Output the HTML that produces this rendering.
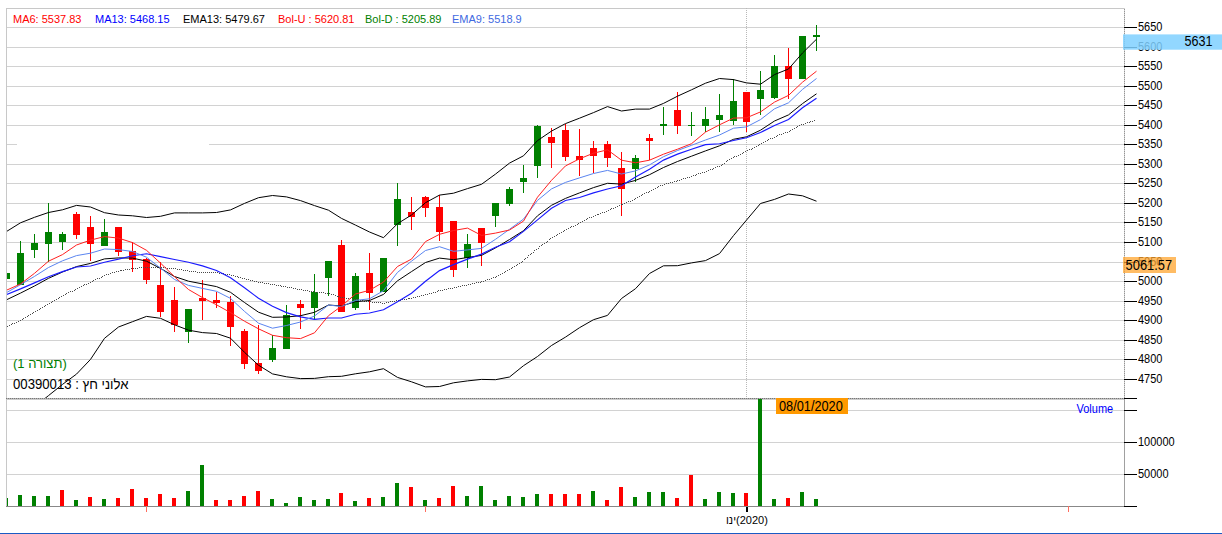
<!DOCTYPE html>
<html><head><meta charset="utf-8"><style>
html,body{margin:0;padding:0;background:#fff;}
body{width:1222px;height:534px;overflow:hidden;position:relative;font-family:"Liberation Sans",sans-serif;}
svg{position:absolute;left:0;top:0;}
div.t{position:absolute;white-space:pre;line-height:1;}
.ib{display:inline-block;}
text{font-family:"Liberation Sans",sans-serif;}
</style></head><body>
<svg width="1222" height="534" viewBox="0 0 1222 534">
<defs><clipPath id="cp"><rect x="7" y="9" width="1117" height="389"/></clipPath>
<clipPath id="cv"><rect x="7" y="399" width="1117" height="107"/></clipPath></defs>

<g shape-rendering="crispEdges" fill="#d2d2d2">
<rect x="7" y="27" width="1117" height="1"/>
<rect x="7" y="47" width="1117" height="1"/>
<rect x="7" y="66" width="1117" height="1"/>
<rect x="7" y="86" width="1117" height="1"/>
<rect x="7" y="105" width="1117" height="1"/>
<rect x="7" y="125" width="1117" height="1"/>
<rect x="7" y="144" width="1117" height="1"/>
<rect x="7" y="164" width="1117" height="1"/>
<rect x="7" y="183" width="1117" height="1"/>
<rect x="7" y="203" width="1117" height="1"/>
<rect x="7" y="222" width="1117" height="1"/>
<rect x="7" y="242" width="1117" height="1"/>
<rect x="7" y="262" width="1117" height="1"/>
<rect x="7" y="281" width="1117" height="1"/>
<rect x="7" y="301" width="1117" height="1"/>
<rect x="7" y="320" width="1117" height="1"/>
<rect x="7" y="340" width="1117" height="1"/>
<rect x="7" y="359" width="1117" height="1"/>
<rect x="7" y="379" width="1117" height="1"/>
</g><rect x="17" y="144" width="192" height="1" fill="#fff" shape-rendering="crispEdges"/><g shape-rendering="crispEdges" fill="#d2d2d2">
<rect x="7" y="410" width="1117" height="1"/>
<rect x="7" y="442" width="1117" height="1"/>
<rect x="7" y="474" width="1117" height="1"/>
</g>
<g shape-rendering="crispEdges">
<rect x="6" y="8" width="1119" height="1" fill="#c8c8c8"/>
<rect x="6" y="8" width="1" height="499" fill="#c8c8c8"/>
<rect x="1124" y="8" width="1" height="390" fill="#d0d0d0"/>
<line x1="1124.5" y1="9" x2="1124.5" y2="398" stroke="#959595" stroke-width="1" stroke-dasharray="1,1"/>
<rect x="1124" y="398" width="1" height="109" fill="#a0a0a0"/>
<rect x="6" y="398" width="1118" height="1" fill="#b4b4b4"/>
<line x1="6" y1="398.5" x2="1124" y2="398.5" stroke="#787878" stroke-width="1" stroke-dasharray="1,1"/>
<rect x="7" y="399" width="1117" height="1" fill="#cccccc"/>
<rect x="6" y="506" width="1119" height="1" fill="#888"/>
<rect x="1124" y="27" width="13" height="1" fill="#000"/>
<rect x="1124" y="47" width="13" height="1" fill="#000"/>
<rect x="1124" y="66" width="13" height="1" fill="#000"/>
<rect x="1124" y="86" width="13" height="1" fill="#000"/>
<rect x="1124" y="105" width="13" height="1" fill="#000"/>
<rect x="1124" y="125" width="13" height="1" fill="#000"/>
<rect x="1124" y="144" width="13" height="1" fill="#000"/>
<rect x="1124" y="164" width="13" height="1" fill="#000"/>
<rect x="1124" y="183" width="13" height="1" fill="#000"/>
<rect x="1124" y="203" width="13" height="1" fill="#000"/>
<rect x="1124" y="222" width="13" height="1" fill="#000"/>
<rect x="1124" y="242" width="13" height="1" fill="#000"/>
<rect x="1124" y="262" width="13" height="1" fill="#000"/>
<rect x="1124" y="281" width="13" height="1" fill="#000"/>
<rect x="1124" y="301" width="13" height="1" fill="#000"/>
<rect x="1124" y="320" width="13" height="1" fill="#000"/>
<rect x="1124" y="340" width="13" height="1" fill="#000"/>
<rect x="1124" y="359" width="13" height="1" fill="#000"/>
<rect x="1124" y="379" width="13" height="1" fill="#000"/>
<rect x="1124" y="398" width="13" height="1" fill="#000"/>
<rect x="1124" y="410" width="13" height="1" fill="#000"/>
<rect x="1124" y="442" width="13" height="1" fill="#000"/>
<rect x="1124" y="474" width="13" height="1" fill="#000"/>
<rect x="1124" y="506" width="13" height="1" fill="#000"/>
</g>
<g font-size="11" fill="#000">
<text transform="translate(1138,31) scale(1,1.12)">5650</text>
<text transform="translate(1138,51) scale(1,1.12)">5600</text>
<text transform="translate(1138,70) scale(1,1.12)">5550</text>
<text transform="translate(1138,90) scale(1,1.12)">5500</text>
<text transform="translate(1138,109) scale(1,1.12)">5450</text>
<text transform="translate(1138,129) scale(1,1.12)">5400</text>
<text transform="translate(1138,148) scale(1,1.12)">5350</text>
<text transform="translate(1138,168) scale(1,1.12)">5300</text>
<text transform="translate(1138,187) scale(1,1.12)">5250</text>
<text transform="translate(1138,207) scale(1,1.12)">5200</text>
<text transform="translate(1138,226) scale(1,1.12)">5150</text>
<text transform="translate(1138,246) scale(1,1.12)">5100</text>
<text transform="translate(1138,266) scale(1,1.12)">5050</text>
<text transform="translate(1138,285) scale(1,1.12)">5000</text>
<text transform="translate(1138,305) scale(1,1.12)">4950</text>
<text transform="translate(1138,324) scale(1,1.12)">4900</text>
<text transform="translate(1138,344) scale(1,1.12)">4850</text>
<text transform="translate(1138,363) scale(1,1.12)">4800</text>
<text transform="translate(1138,383) scale(1,1.12)">4750</text>
<text transform="translate(1138,446) scale(1,1.12)">100000</text><text transform="translate(1138,478) scale(1,1.12)">50000</text>
</g>
<line x1="746.5" y1="8" x2="746.5" y2="398" stroke="#b8b8b8" stroke-width="1" stroke-dasharray="1,1" shape-rendering="crispEdges"/>
<g clip-path="url(#cp)">
<g shape-rendering="crispEdges">
<rect x="6" y="272.7" width="1" height="6.0" fill="#008000"/>
<rect x="3" y="272.7" width="7" height="6.0" fill="#008000"/>
<rect x="20" y="240.9" width="1" height="43.6" fill="#008000"/>
<rect x="17" y="253.1" width="7" height="31.4" fill="#008000"/>
<rect x="34" y="234.0" width="1" height="23.7" fill="#008000"/>
<rect x="31" y="243.1" width="7" height="6.8" fill="#008000"/>
<rect x="48" y="203.4" width="1" height="58.1" fill="#008000"/>
<rect x="45" y="232.1" width="7" height="11.6" fill="#008000"/>
<rect x="62" y="232.1" width="1" height="17.8" fill="#008000"/>
<rect x="59" y="234.0" width="7" height="7.8" fill="#008000"/>
<rect x="76" y="212.2" width="1" height="26.4" fill="#ff0000"/>
<rect x="73" y="213.7" width="7" height="21.0" fill="#ff0000"/>
<rect x="90" y="216.2" width="1" height="44.7" fill="#ff0000"/>
<rect x="87" y="227.2" width="7" height="16.5" fill="#ff0000"/>
<rect x="104" y="219.0" width="1" height="26.6" fill="#008000"/>
<rect x="101" y="232.1" width="7" height="13.5" fill="#008000"/>
<rect x="118" y="227.1" width="1" height="28.5" fill="#ff0000"/>
<rect x="115" y="227.1" width="7" height="24.7" fill="#ff0000"/>
<rect x="132" y="241.5" width="1" height="30.0" fill="#ff0000"/>
<rect x="129" y="251.3" width="7" height="8.2" fill="#ff0000"/>
<rect x="146" y="257.5" width="1" height="26.2" fill="#ff0000"/>
<rect x="143" y="259.3" width="7" height="20.6" fill="#ff0000"/>
<rect x="160" y="261.6" width="1" height="54.9" fill="#ff0000"/>
<rect x="157" y="285.0" width="7" height="26.8" fill="#ff0000"/>
<rect x="174" y="287.1" width="1" height="44.8" fill="#ff0000"/>
<rect x="171" y="300.0" width="7" height="25.0" fill="#ff0000"/>
<rect x="188" y="309.0" width="1" height="33.7" fill="#008000"/>
<rect x="185" y="309.0" width="7" height="22.5" fill="#008000"/>
<rect x="202" y="280.3" width="1" height="39.4" fill="#ff0000"/>
<rect x="199" y="298.0" width="7" height="2.5" fill="#ff0000"/>
<rect x="216" y="292.1" width="1" height="15.5" fill="#ff0000"/>
<rect x="213" y="300.0" width="7" height="2.9" fill="#ff0000"/>
<rect x="230" y="295.6" width="1" height="50.2" fill="#ff0000"/>
<rect x="227" y="301.8" width="7" height="24.7" fill="#ff0000"/>
<rect x="244" y="329.3" width="1" height="39.4" fill="#ff0000"/>
<rect x="241" y="330.8" width="7" height="32.8" fill="#ff0000"/>
<rect x="258" y="325.2" width="1" height="49.1" fill="#ff0000"/>
<rect x="255" y="363.0" width="7" height="7.5" fill="#ff0000"/>
<rect x="272" y="334.6" width="1" height="26.9" fill="#008000"/>
<rect x="269" y="348.0" width="7" height="11.7" fill="#008000"/>
<rect x="286" y="305.0" width="1" height="43.6" fill="#008000"/>
<rect x="283" y="314.9" width="7" height="33.7" fill="#008000"/>
<rect x="300" y="300.3" width="1" height="28.5" fill="#ff0000"/>
<rect x="297" y="304.0" width="7" height="3.8" fill="#ff0000"/>
<rect x="314" y="274.0" width="1" height="45.4" fill="#008000"/>
<rect x="311" y="292.2" width="7" height="15.6" fill="#008000"/>
<rect x="328" y="261.0" width="1" height="34.6" fill="#008000"/>
<rect x="325" y="261.0" width="7" height="16.6" fill="#008000"/>
<rect x="341" y="240.3" width="1" height="72.1" fill="#ff0000"/>
<rect x="338" y="245.0" width="7" height="67.4" fill="#ff0000"/>
<rect x="355" y="273.1" width="1" height="36.5" fill="#008000"/>
<rect x="352" y="275.9" width="7" height="31.8" fill="#008000"/>
<rect x="369" y="253.4" width="1" height="56.2" fill="#ff0000"/>
<rect x="366" y="273.1" width="7" height="19.6" fill="#ff0000"/>
<rect x="383" y="258.1" width="1" height="34.1" fill="#008000"/>
<rect x="380" y="258.1" width="7" height="34.1" fill="#008000"/>
<rect x="397" y="183.4" width="1" height="62.3" fill="#008000"/>
<rect x="394" y="199.0" width="7" height="25.8" fill="#008000"/>
<rect x="411" y="197.0" width="1" height="32.7" fill="#ff0000"/>
<rect x="408" y="212.0" width="7" height="4.5" fill="#ff0000"/>
<rect x="425" y="196.3" width="1" height="20.5" fill="#ff0000"/>
<rect x="422" y="196.8" width="7" height="10.9" fill="#ff0000"/>
<rect x="439" y="195.4" width="1" height="45.2" fill="#ff0000"/>
<rect x="436" y="207.0" width="7" height="24.7" fill="#ff0000"/>
<rect x="453" y="221.0" width="1" height="55.6" fill="#ff0000"/>
<rect x="450" y="221.0" width="7" height="48.7" fill="#ff0000"/>
<rect x="467" y="234.2" width="1" height="33.6" fill="#008000"/>
<rect x="464" y="244.0" width="7" height="13.5" fill="#008000"/>
<rect x="481" y="228.0" width="1" height="37.7" fill="#ff0000"/>
<rect x="478" y="228.0" width="7" height="14.7" fill="#ff0000"/>
<rect x="495" y="203.0" width="1" height="23.7" fill="#008000"/>
<rect x="492" y="203.0" width="7" height="12.7" fill="#008000"/>
<rect x="509" y="187.1" width="1" height="18.7" fill="#008000"/>
<rect x="506" y="189.0" width="7" height="14.6" fill="#008000"/>
<rect x="523" y="165.2" width="1" height="27.5" fill="#008000"/>
<rect x="520" y="178.3" width="7" height="3.2" fill="#008000"/>
<rect x="537" y="125.3" width="1" height="52.4" fill="#008000"/>
<rect x="534" y="125.9" width="7" height="39.7" fill="#008000"/>
<rect x="551" y="128.1" width="1" height="39.7" fill="#ff0000"/>
<rect x="548" y="137.1" width="7" height="5.6" fill="#ff0000"/>
<rect x="565" y="124.4" width="1" height="36.1" fill="#ff0000"/>
<rect x="562" y="130.0" width="7" height="26.6" fill="#ff0000"/>
<rect x="579" y="129.0" width="1" height="46.9" fill="#ff0000"/>
<rect x="576" y="156.2" width="7" height="3.8" fill="#ff0000"/>
<rect x="593" y="141.0" width="1" height="32.2" fill="#ff0000"/>
<rect x="590" y="148.1" width="7" height="7.8" fill="#ff0000"/>
<rect x="607" y="140.9" width="1" height="25.8" fill="#ff0000"/>
<rect x="604" y="144.2" width="7" height="13.6" fill="#ff0000"/>
<rect x="621" y="152.0" width="1" height="63.8" fill="#ff0000"/>
<rect x="618" y="168.1" width="7" height="20.4" fill="#ff0000"/>
<rect x="635" y="155.0" width="1" height="26.7" fill="#008000"/>
<rect x="632" y="158.3" width="7" height="10.4" fill="#008000"/>
<rect x="649" y="134.0" width="1" height="26.1" fill="#ff0000"/>
<rect x="646" y="138.1" width="7" height="2.7" fill="#ff0000"/>
<rect x="663" y="107.2" width="1" height="27.8" fill="#008000"/>
<rect x="660" y="124.1" width="7" height="1.9" fill="#008000"/>
<rect x="677" y="92.2" width="1" height="41.8" fill="#ff0000"/>
<rect x="674" y="110.0" width="7" height="15.6" fill="#ff0000"/>
<rect x="691" y="112.1" width="1" height="23.8" fill="#008000"/>
<rect x="688" y="124.6" width="7" height="1.5" fill="#008000"/>
<rect x="705" y="107.2" width="1" height="25.2" fill="#008000"/>
<rect x="702" y="118.9" width="7" height="6.7" fill="#008000"/>
<rect x="719" y="94.2" width="1" height="37.5" fill="#008000"/>
<rect x="716" y="114.8" width="7" height="5.2" fill="#008000"/>
<rect x="733" y="78.9" width="1" height="45.6" fill="#008000"/>
<rect x="730" y="100.9" width="7" height="19.8" fill="#008000"/>
<rect x="746" y="92.0" width="1" height="39.9" fill="#ff0000"/>
<rect x="743" y="92.0" width="7" height="29.8" fill="#ff0000"/>
<rect x="760" y="70.9" width="1" height="44.5" fill="#008000"/>
<rect x="757" y="90.2" width="7" height="8.4" fill="#008000"/>
<rect x="774" y="55.2" width="1" height="43.4" fill="#008000"/>
<rect x="771" y="65.8" width="7" height="31.9" fill="#008000"/>
<rect x="788" y="47.5" width="1" height="51.1" fill="#ff0000"/>
<rect x="785" y="65.8" width="7" height="12.8" fill="#ff0000"/>
<rect x="802" y="35.9" width="1" height="42.7" fill="#008000"/>
<rect x="799" y="35.9" width="7" height="42.7" fill="#008000"/>
<rect x="816" y="25.2" width="1" height="25.6" fill="#008000"/>
<rect x="813" y="35.0" width="7" height="1.8" fill="#008000"/>
</g>
<g fill="#4a4a4a" shape-rendering="crispEdges"><rect x="-8" y="332" width="1" height="1"/><rect x="-6" y="331" width="1" height="1"/><rect x="-4" y="330" width="1" height="1"/><rect x="-2" y="329" width="1" height="1"/><rect x="-1" y="329" width="1" height="1"/><rect x="1" y="328" width="1" height="1"/><rect x="3" y="327" width="1" height="1"/><rect x="5" y="326" width="1" height="1"/><rect x="7" y="326" width="1" height="1"/><rect x="9" y="325" width="1" height="1"/><rect x="11" y="324" width="1" height="1"/><rect x="12" y="323" width="1" height="1"/><rect x="14" y="323" width="1" height="1"/><rect x="16" y="322" width="1" height="1"/><rect x="18" y="321" width="1" height="1"/><rect x="20" y="320" width="1" height="1"/><rect x="22" y="319" width="1" height="1"/><rect x="23" y="318" width="1" height="1"/><rect x="25" y="317" width="1" height="1"/><rect x="27" y="316" width="1" height="1"/><rect x="28" y="315" width="1" height="1"/><rect x="30" y="314" width="1" height="1"/><rect x="32" y="313" width="1" height="1"/><rect x="33" y="312" width="1" height="1"/><rect x="35" y="311" width="1" height="1"/><rect x="37" y="310" width="1" height="1"/><rect x="39" y="309" width="1" height="1"/><rect x="40" y="308" width="1" height="1"/><rect x="42" y="307" width="1" height="1"/><rect x="44" y="306" width="1" height="1"/><rect x="45" y="305" width="1" height="1"/><rect x="47" y="304" width="1" height="1"/><rect x="49" y="303" width="1" height="1"/><rect x="51" y="302" width="1" height="1"/><rect x="52" y="301" width="1" height="1"/><rect x="54" y="300" width="1" height="1"/><rect x="56" y="299" width="1" height="1"/><rect x="58" y="298" width="1" height="1"/><rect x="59" y="297" width="1" height="1"/><rect x="61" y="296" width="1" height="1"/><rect x="63" y="295" width="1" height="1"/><rect x="65" y="294" width="1" height="1"/><rect x="66" y="293" width="1" height="1"/><rect x="68" y="292" width="1" height="1"/><rect x="70" y="291" width="1" height="1"/><rect x="72" y="291" width="1" height="1"/><rect x="74" y="290" width="1" height="1"/><rect x="75" y="289" width="1" height="1"/><rect x="77" y="288" width="1" height="1"/><rect x="79" y="287" width="1" height="1"/><rect x="81" y="286" width="1" height="1"/><rect x="83" y="285" width="1" height="1"/><rect x="84" y="284" width="1" height="1"/><rect x="86" y="284" width="1" height="1"/><rect x="88" y="283" width="1" height="1"/><rect x="90" y="282" width="1" height="1"/><rect x="92" y="281" width="1" height="1"/><rect x="93" y="280" width="1" height="1"/><rect x="95" y="279" width="1" height="1"/><rect x="97" y="278" width="1" height="1"/><rect x="99" y="278" width="1" height="1"/><rect x="101" y="277" width="1" height="1"/><rect x="102" y="276" width="1" height="1"/><rect x="104" y="275" width="1" height="1"/><rect x="106" y="274" width="1" height="1"/><rect x="108" y="274" width="1" height="1"/><rect x="110" y="273" width="1" height="1"/><rect x="112" y="272" width="1" height="1"/><rect x="114" y="272" width="1" height="1"/><rect x="116" y="271" width="1" height="1"/><rect x="118" y="271" width="1" height="1"/><rect x="120" y="270" width="1" height="1"/><rect x="121" y="270" width="1" height="1"/><rect x="123" y="270" width="1" height="1"/><rect x="125" y="269" width="1" height="1"/><rect x="127" y="269" width="1" height="1"/><rect x="129" y="269" width="1" height="1"/><rect x="131" y="268" width="1" height="1"/><rect x="133" y="268" width="1" height="1"/><rect x="135" y="268" width="1" height="1"/><rect x="137" y="268" width="1" height="1"/><rect x="139" y="267" width="1" height="1"/><rect x="141" y="267" width="1" height="1"/><rect x="143" y="267" width="1" height="1"/><rect x="145" y="267" width="1" height="1"/><rect x="147" y="267" width="1" height="1"/><rect x="149" y="267" width="1" height="1"/><rect x="151" y="267" width="1" height="1"/><rect x="153" y="267" width="1" height="1"/><rect x="155" y="267" width="1" height="1"/><rect x="157" y="267" width="1" height="1"/><rect x="159" y="267" width="1" height="1"/><rect x="161" y="267" width="1" height="1"/><rect x="163" y="267" width="1" height="1"/><rect x="165" y="267" width="1" height="1"/><rect x="167" y="268" width="1" height="1"/><rect x="169" y="268" width="1" height="1"/><rect x="171" y="268" width="1" height="1"/><rect x="173" y="268" width="1" height="1"/><rect x="175" y="268" width="1" height="1"/><rect x="177" y="269" width="1" height="1"/><rect x="179" y="269" width="1" height="1"/><rect x="181" y="269" width="1" height="1"/><rect x="183" y="270" width="1" height="1"/><rect x="185" y="270" width="1" height="1"/><rect x="187" y="270" width="1" height="1"/><rect x="189" y="271" width="1" height="1"/><rect x="191" y="271" width="1" height="1"/><rect x="193" y="271" width="1" height="1"/><rect x="195" y="271" width="1" height="1"/><rect x="197" y="272" width="1" height="1"/><rect x="199" y="272" width="1" height="1"/><rect x="201" y="272" width="1" height="1"/><rect x="203" y="272" width="1" height="1"/><rect x="205" y="272" width="1" height="1"/><rect x="207" y="272" width="1" height="1"/><rect x="209" y="272" width="1" height="1"/><rect x="211" y="272" width="1" height="1"/><rect x="213" y="272" width="1" height="1"/><rect x="215" y="272" width="1" height="1"/><rect x="217" y="272" width="1" height="1"/><rect x="219" y="273" width="1" height="1"/><rect x="221" y="273" width="1" height="1"/><rect x="223" y="273" width="1" height="1"/><rect x="225" y="274" width="1" height="1"/><rect x="227" y="274" width="1" height="1"/><rect x="229" y="274" width="1" height="1"/><rect x="231" y="275" width="1" height="1"/><rect x="233" y="275" width="1" height="1"/><rect x="235" y="276" width="1" height="1"/><rect x="237" y="276" width="1" height="1"/><rect x="238" y="277" width="1" height="1"/><rect x="240" y="277" width="1" height="1"/><rect x="242" y="278" width="1" height="1"/><rect x="244" y="278" width="1" height="1"/><rect x="246" y="279" width="1" height="1"/><rect x="248" y="279" width="1" height="1"/><rect x="250" y="280" width="1" height="1"/><rect x="252" y="280" width="1" height="1"/><rect x="254" y="281" width="1" height="1"/><rect x="256" y="281" width="1" height="1"/><rect x="258" y="282" width="1" height="1"/><rect x="260" y="282" width="1" height="1"/><rect x="262" y="282" width="1" height="1"/><rect x="264" y="283" width="1" height="1"/><rect x="266" y="283" width="1" height="1"/><rect x="268" y="283" width="1" height="1"/><rect x="270" y="284" width="1" height="1"/><rect x="272" y="284" width="1" height="1"/><rect x="274" y="284" width="1" height="1"/><rect x="276" y="285" width="1" height="1"/><rect x="278" y="285" width="1" height="1"/><rect x="280" y="285" width="1" height="1"/><rect x="281" y="286" width="1" height="1"/><rect x="283" y="286" width="1" height="1"/><rect x="285" y="286" width="1" height="1"/><rect x="287" y="287" width="1" height="1"/><rect x="289" y="287" width="1" height="1"/><rect x="291" y="287" width="1" height="1"/><rect x="293" y="288" width="1" height="1"/><rect x="295" y="288" width="1" height="1"/><rect x="297" y="289" width="1" height="1"/><rect x="299" y="289" width="1" height="1"/><rect x="301" y="289" width="1" height="1"/><rect x="303" y="290" width="1" height="1"/><rect x="305" y="290" width="1" height="1"/><rect x="307" y="290" width="1" height="1"/><rect x="309" y="291" width="1" height="1"/><rect x="311" y="291" width="1" height="1"/><rect x="313" y="291" width="1" height="1"/><rect x="315" y="292" width="1" height="1"/><rect x="317" y="292" width="1" height="1"/><rect x="319" y="292" width="1" height="1"/><rect x="321" y="292" width="1" height="1"/><rect x="323" y="292" width="1" height="1"/><rect x="325" y="293" width="1" height="1"/><rect x="327" y="293" width="1" height="1"/><rect x="329" y="293" width="1" height="1"/><rect x="331" y="294" width="1" height="1"/><rect x="333" y="294" width="1" height="1"/><rect x="335" y="295" width="1" height="1"/><rect x="337" y="296" width="1" height="1"/><rect x="338" y="296" width="1" height="1"/><rect x="340" y="297" width="1" height="1"/><rect x="342" y="297" width="1" height="1"/><rect x="344" y="297" width="1" height="1"/><rect x="346" y="298" width="1" height="1"/><rect x="348" y="298" width="1" height="1"/><rect x="350" y="298" width="1" height="1"/><rect x="352" y="299" width="1" height="1"/><rect x="354" y="299" width="1" height="1"/><rect x="356" y="299" width="1" height="1"/><rect x="358" y="299" width="1" height="1"/><rect x="360" y="300" width="1" height="1"/><rect x="362" y="300" width="1" height="1"/><rect x="364" y="301" width="1" height="1"/><rect x="366" y="301" width="1" height="1"/><rect x="368" y="301" width="1" height="1"/><rect x="370" y="301" width="1" height="1"/><rect x="372" y="302" width="1" height="1"/><rect x="374" y="302" width="1" height="1"/><rect x="376" y="302" width="1" height="1"/><rect x="378" y="302" width="1" height="1"/><rect x="380" y="302" width="1" height="1"/><rect x="382" y="303" width="1" height="1"/><rect x="384" y="303" width="1" height="1"/><rect x="386" y="302" width="1" height="1"/><rect x="388" y="302" width="1" height="1"/><rect x="390" y="301" width="1" height="1"/><rect x="392" y="301" width="1" height="1"/><rect x="394" y="301" width="1" height="1"/><rect x="396" y="300" width="1" height="1"/><rect x="398" y="300" width="1" height="1"/><rect x="400" y="300" width="1" height="1"/><rect x="402" y="299" width="1" height="1"/><rect x="404" y="299" width="1" height="1"/><rect x="406" y="299" width="1" height="1"/><rect x="408" y="298" width="1" height="1"/><rect x="409" y="298" width="1" height="1"/><rect x="411" y="298" width="1" height="1"/><rect x="413" y="297" width="1" height="1"/><rect x="415" y="297" width="1" height="1"/><rect x="417" y="296" width="1" height="1"/><rect x="419" y="296" width="1" height="1"/><rect x="421" y="295" width="1" height="1"/><rect x="423" y="295" width="1" height="1"/><rect x="425" y="294" width="1" height="1"/><rect x="427" y="294" width="1" height="1"/><rect x="429" y="293" width="1" height="1"/><rect x="431" y="293" width="1" height="1"/><rect x="433" y="292" width="1" height="1"/><rect x="435" y="292" width="1" height="1"/><rect x="437" y="291" width="1" height="1"/><rect x="438" y="290" width="1" height="1"/><rect x="440" y="290" width="1" height="1"/><rect x="442" y="290" width="1" height="1"/><rect x="444" y="289" width="1" height="1"/><rect x="446" y="289" width="1" height="1"/><rect x="448" y="288" width="1" height="1"/><rect x="450" y="288" width="1" height="1"/><rect x="452" y="288" width="1" height="1"/><rect x="454" y="287" width="1" height="1"/><rect x="456" y="287" width="1" height="1"/><rect x="458" y="286" width="1" height="1"/><rect x="460" y="286" width="1" height="1"/><rect x="462" y="285" width="1" height="1"/><rect x="464" y="285" width="1" height="1"/><rect x="466" y="285" width="1" height="1"/><rect x="468" y="284" width="1" height="1"/><rect x="470" y="284" width="1" height="1"/><rect x="472" y="283" width="1" height="1"/><rect x="474" y="283" width="1" height="1"/><rect x="476" y="282" width="1" height="1"/><rect x="478" y="282" width="1" height="1"/><rect x="480" y="282" width="1" height="1"/><rect x="481" y="281" width="1" height="1"/><rect x="483" y="281" width="1" height="1"/><rect x="485" y="280" width="1" height="1"/><rect x="487" y="279" width="1" height="1"/><rect x="489" y="279" width="1" height="1"/><rect x="491" y="278" width="1" height="1"/><rect x="493" y="277" width="1" height="1"/><rect x="495" y="277" width="1" height="1"/><rect x="496" y="276" width="1" height="1"/><rect x="498" y="275" width="1" height="1"/><rect x="500" y="274" width="1" height="1"/><rect x="502" y="273" width="1" height="1"/><rect x="504" y="272" width="1" height="1"/><rect x="505" y="271" width="1" height="1"/><rect x="507" y="270" width="1" height="1"/><rect x="509" y="269" width="1" height="1"/><rect x="511" y="268" width="1" height="1"/><rect x="512" y="267" width="1" height="1"/><rect x="514" y="266" width="1" height="1"/><rect x="516" y="265" width="1" height="1"/><rect x="517" y="264" width="1" height="1"/><rect x="519" y="263" width="1" height="1"/><rect x="521" y="262" width="1" height="1"/><rect x="522" y="261" width="1" height="1"/><rect x="524" y="259" width="1" height="1"/><rect x="525" y="258" width="1" height="1"/><rect x="527" y="257" width="1" height="1"/><rect x="528" y="255" width="1" height="1"/><rect x="530" y="254" width="1" height="1"/><rect x="531" y="253" width="1" height="1"/><rect x="533" y="252" width="1" height="1"/><rect x="534" y="250" width="1" height="1"/><rect x="536" y="249" width="1" height="1"/><rect x="538" y="248" width="1" height="1"/><rect x="539" y="246" width="1" height="1"/><rect x="541" y="245" width="1" height="1"/><rect x="542" y="244" width="1" height="1"/><rect x="544" y="243" width="1" height="1"/><rect x="546" y="242" width="1" height="1"/><rect x="547" y="241" width="1" height="1"/><rect x="549" y="239" width="1" height="1"/><rect x="550" y="238" width="1" height="1"/><rect x="552" y="237" width="1" height="1"/><rect x="554" y="236" width="1" height="1"/><rect x="556" y="235" width="1" height="1"/><rect x="557" y="234" width="1" height="1"/><rect x="559" y="233" width="1" height="1"/><rect x="561" y="232" width="1" height="1"/><rect x="563" y="231" width="1" height="1"/><rect x="564" y="230" width="1" height="1"/><rect x="566" y="229" width="1" height="1"/><rect x="568" y="228" width="1" height="1"/><rect x="570" y="227" width="1" height="1"/><rect x="571" y="226" width="1" height="1"/><rect x="573" y="226" width="1" height="1"/><rect x="575" y="225" width="1" height="1"/><rect x="577" y="224" width="1" height="1"/><rect x="578" y="223" width="1" height="1"/><rect x="580" y="222" width="1" height="1"/><rect x="582" y="221" width="1" height="1"/><rect x="584" y="220" width="1" height="1"/><rect x="586" y="219" width="1" height="1"/><rect x="587" y="218" width="1" height="1"/><rect x="589" y="217" width="1" height="1"/><rect x="591" y="217" width="1" height="1"/><rect x="593" y="216" width="1" height="1"/><rect x="595" y="215" width="1" height="1"/><rect x="597" y="214" width="1" height="1"/><rect x="598" y="214" width="1" height="1"/><rect x="600" y="213" width="1" height="1"/><rect x="602" y="212" width="1" height="1"/><rect x="604" y="212" width="1" height="1"/><rect x="606" y="211" width="1" height="1"/><rect x="608" y="210" width="1" height="1"/><rect x="610" y="209" width="1" height="1"/><rect x="611" y="208" width="1" height="1"/><rect x="613" y="208" width="1" height="1"/><rect x="615" y="207" width="1" height="1"/><rect x="617" y="206" width="1" height="1"/><rect x="619" y="205" width="1" height="1"/><rect x="621" y="204" width="1" height="1"/><rect x="622" y="204" width="1" height="1"/><rect x="624" y="203" width="1" height="1"/><rect x="626" y="202" width="1" height="1"/><rect x="628" y="201" width="1" height="1"/><rect x="630" y="201" width="1" height="1"/><rect x="632" y="200" width="1" height="1"/><rect x="634" y="199" width="1" height="1"/><rect x="635" y="198" width="1" height="1"/><rect x="637" y="197" width="1" height="1"/><rect x="639" y="196" width="1" height="1"/><rect x="641" y="195" width="1" height="1"/><rect x="642" y="194" width="1" height="1"/><rect x="644" y="193" width="1" height="1"/><rect x="646" y="192" width="1" height="1"/><rect x="648" y="192" width="1" height="1"/><rect x="649" y="191" width="1" height="1"/><rect x="651" y="190" width="1" height="1"/><rect x="653" y="189" width="1" height="1"/><rect x="655" y="188" width="1" height="1"/><rect x="657" y="187" width="1" height="1"/><rect x="658" y="186" width="1" height="1"/><rect x="660" y="185" width="1" height="1"/><rect x="662" y="185" width="1" height="1"/><rect x="664" y="184" width="1" height="1"/><rect x="666" y="183" width="1" height="1"/><rect x="668" y="183" width="1" height="1"/><rect x="670" y="182" width="1" height="1"/><rect x="672" y="182" width="1" height="1"/><rect x="674" y="181" width="1" height="1"/><rect x="676" y="181" width="1" height="1"/><rect x="677" y="180" width="1" height="1"/><rect x="679" y="180" width="1" height="1"/><rect x="681" y="179" width="1" height="1"/><rect x="683" y="178" width="1" height="1"/><rect x="685" y="178" width="1" height="1"/><rect x="687" y="177" width="1" height="1"/><rect x="689" y="177" width="1" height="1"/><rect x="691" y="176" width="1" height="1"/><rect x="693" y="175" width="1" height="1"/><rect x="695" y="175" width="1" height="1"/><rect x="696" y="174" width="1" height="1"/><rect x="698" y="173" width="1" height="1"/><rect x="700" y="173" width="1" height="1"/><rect x="702" y="172" width="1" height="1"/><rect x="704" y="172" width="1" height="1"/><rect x="706" y="171" width="1" height="1"/><rect x="708" y="170" width="1" height="1"/><rect x="710" y="169" width="1" height="1"/><rect x="712" y="169" width="1" height="1"/><rect x="713" y="168" width="1" height="1"/><rect x="715" y="167" width="1" height="1"/><rect x="717" y="166" width="1" height="1"/><rect x="719" y="166" width="1" height="1"/><rect x="721" y="165" width="1" height="1"/><rect x="722" y="164" width="1" height="1"/><rect x="724" y="163" width="1" height="1"/><rect x="726" y="161" width="1" height="1"/><rect x="727" y="160" width="1" height="1"/><rect x="729" y="159" width="1" height="1"/><rect x="731" y="158" width="1" height="1"/><rect x="733" y="157" width="1" height="1"/><rect x="734" y="156" width="1" height="1"/><rect x="736" y="156" width="1" height="1"/><rect x="738" y="155" width="1" height="1"/><rect x="740" y="154" width="1" height="1"/><rect x="742" y="153" width="1" height="1"/><rect x="743" y="152" width="1" height="1"/><rect x="745" y="151" width="1" height="1"/><rect x="747" y="150" width="1" height="1"/><rect x="749" y="149" width="1" height="1"/><rect x="751" y="149" width="1" height="1"/><rect x="752" y="148" width="1" height="1"/><rect x="754" y="147" width="1" height="1"/><rect x="756" y="146" width="1" height="1"/><rect x="758" y="145" width="1" height="1"/><rect x="759" y="144" width="1" height="1"/><rect x="761" y="143" width="1" height="1"/><rect x="763" y="142" width="1" height="1"/><rect x="765" y="141" width="1" height="1"/><rect x="767" y="140" width="1" height="1"/><rect x="768" y="139" width="1" height="1"/><rect x="770" y="138" width="1" height="1"/><rect x="772" y="138" width="1" height="1"/><rect x="774" y="137" width="1" height="1"/><rect x="776" y="136" width="1" height="1"/><rect x="777" y="135" width="1" height="1"/><rect x="779" y="134" width="1" height="1"/><rect x="781" y="134" width="1" height="1"/><rect x="783" y="133" width="1" height="1"/><rect x="785" y="132" width="1" height="1"/><rect x="787" y="132" width="1" height="1"/><rect x="789" y="131" width="1" height="1"/><rect x="790" y="130" width="1" height="1"/><rect x="792" y="129" width="1" height="1"/><rect x="794" y="128" width="1" height="1"/><rect x="796" y="127" width="1" height="1"/><rect x="797" y="126" width="1" height="1"/><rect x="799" y="125" width="1" height="1"/><rect x="801" y="124" width="1" height="1"/><rect x="803" y="124" width="1" height="1"/><rect x="805" y="123" width="1" height="1"/><rect x="807" y="122" width="1" height="1"/><rect x="809" y="122" width="1" height="1"/><rect x="810" y="121" width="1" height="1"/><rect x="812" y="121" width="1" height="1"/><rect x="814" y="120" width="1" height="1"/></g>
<polyline fill="none" stroke="#000" stroke-width="1" points="-7.5,240.2 6.5,231.5 20.5,222.8 34.5,217.3 48.5,212.5 62.5,209.8 76.5,205.4 90.5,207.0 104.5,212.7 118.5,215.0 132.5,215.8 146.5,217.5 160.5,216.3 174.5,212.9 188.5,212.9 202.5,212.9 216.5,212.5 230.5,209.9 244.5,203.4 258.5,197.7 272.5,195.5 286.5,196.9 300.5,200.6 314.5,205.6 328.5,210.2 341.5,218.4 355.5,225.1 369.5,232.0 383.5,237.7 397.5,223.7 411.5,215.0 425.5,202.7 439.5,195.1 453.5,193.2 467.5,188.6 481.5,184.3 495.5,174.1 509.5,163.1 523.5,155.8 537.5,140.6 551.5,131.1 565.5,123.6 579.5,118.2 593.5,112.6 607.5,106.6 621.5,111.0 635.5,109.1 649.5,109.1 663.5,103.4 677.5,96.2 691.5,89.8 705.5,83.2 719.5,78.5 733.5,79.6 746.5,82.9 760.5,84.2 774.5,74.6 788.5,69.0 802.5,53.0 816.5,39.2"/>
<polyline fill="none" stroke="#000" stroke-width="1" points="-7.5,424.0 6.5,421.5 20.5,419.0 34.5,406.9 48.5,395.6 62.5,384.4 76.5,374.1 90.5,359.4 104.5,338.3 118.5,327.0 132.5,321.7 146.5,316.4 160.5,318.3 174.5,324.8 188.5,330.2 202.5,332.6 216.5,333.5 230.5,338.2 244.5,352.3 258.5,365.2 272.5,373.9 286.5,376.8 300.5,378.6 314.5,378.4 328.5,376.7 341.5,376.3 355.5,373.8 369.5,371.8 383.5,368.7 397.5,377.4 411.5,381.8 425.5,386.9 439.5,386.5 453.5,382.8 467.5,380.9 481.5,379.4 495.5,379.7 509.5,377.0 523.5,365.7 537.5,356.5 551.5,345.5 565.5,337.1 579.5,327.7 593.5,319.7 607.5,315.4 621.5,298.5 635.5,288.7 649.5,273.5 663.5,265.8 677.5,265.7 691.5,262.9 705.5,260.6 719.5,253.6 733.5,235.6 746.5,220.1 760.5,203.5 774.5,199.4 788.5,194.0 802.5,195.8 816.5,201.2"/>
<polyline fill="none" stroke="#000" stroke-width="1" points="-7.5,306.5 6.5,299.8 20.5,293.1 34.5,286.0 48.5,278.3 62.5,272.0 76.5,266.6 90.5,263.4 104.5,258.9 118.5,257.9 132.5,258.1 146.5,261.2 160.5,268.4 174.5,276.5 188.5,281.2 202.5,283.9 216.5,286.6 230.5,292.3 244.5,302.5 258.5,312.2 272.5,317.3 286.5,317.0 300.5,315.7 314.5,312.3 328.5,305.0 341.5,306.0 355.5,301.7 369.5,300.5 383.5,294.4 397.5,280.8 411.5,271.6 425.5,262.5 439.5,258.1 453.5,259.7 467.5,257.5 481.5,255.4 495.5,247.9 509.5,239.5 523.5,230.7 537.5,215.8 551.5,205.3 565.5,198.4 579.5,192.9 593.5,187.6 607.5,183.3 621.5,184.1 635.5,180.4 649.5,174.7 663.5,167.5 677.5,161.5 691.5,156.2 705.5,150.9 719.5,145.8 733.5,139.3 746.5,136.8 760.5,130.2 774.5,121.0 788.5,114.9 802.5,103.6 816.5,93.8"/>
<polyline fill="none" stroke="#1a1aff" stroke-width="1.15" points="-7.5,300.1 6.5,294.5 20.5,288.9 34.5,282.9 48.5,276.7 62.5,271.6 76.5,267.0 90.5,266.0 104.5,262.3 118.5,259.1 132.5,255.7 146.5,253.8 160.5,256.6 174.5,259.5 188.5,262.3 202.5,265.9 216.5,270.5 230.5,277.8 244.5,287.8 258.5,298.2 272.5,306.2 286.5,312.6 300.5,316.9 314.5,319.4 328.5,318.0 341.5,318.0 355.5,314.2 369.5,313.0 383.5,309.7 397.5,301.7 411.5,293.3 425.5,281.3 439.5,270.6 453.5,264.6 467.5,259.1 481.5,254.1 495.5,247.3 509.5,241.7 523.5,231.4 537.5,219.9 551.5,208.3 565.5,200.5 579.5,197.5 593.5,192.9 607.5,189.0 621.5,185.7 635.5,177.1 649.5,169.2 663.5,160.1 677.5,154.1 691.5,149.2 705.5,144.6 719.5,143.7 733.5,140.5 746.5,137.8 760.5,132.5 774.5,125.5 788.5,119.5 802.5,107.7 816.5,98.2"/>
<polyline fill="none" stroke="#5b85f0" stroke-width="1" points="-7.5,300.5 6.5,292.6 20.5,284.7 34.5,276.4 48.5,267.5 62.5,260.8 76.5,255.6 90.5,253.2 104.5,249.0 118.5,249.6 132.5,251.5 146.5,257.2 160.5,268.1 174.5,279.5 188.5,285.4 202.5,288.4 216.5,291.3 230.5,298.4 244.5,311.4 258.5,323.2 272.5,328.2 286.5,325.5 300.5,322.0 314.5,316.0 328.5,305.0 341.5,306.5 355.5,300.4 369.5,298.8 383.5,290.7 397.5,272.4 411.5,261.2 425.5,250.5 439.5,246.7 453.5,251.3 467.5,249.9 481.5,248.4 495.5,239.3 509.5,229.3 523.5,219.1 537.5,200.4 551.5,188.9 565.5,182.4 579.5,177.9 593.5,173.5 607.5,170.4 621.5,174.0 635.5,170.9 649.5,164.9 663.5,156.7 677.5,150.5 691.5,145.3 705.5,140.0 719.5,135.0 733.5,128.2 746.5,126.9 760.5,119.6 774.5,108.8 788.5,102.8 802.5,89.4 816.5,78.5"/>
<polyline fill="none" stroke="#ff2020" stroke-width="1" points="-7.5,296.4 6.5,290.2 20.5,284.0 34.5,273.3 48.5,261.2 62.5,254.6 76.5,245.0 90.5,240.1 104.5,236.6 118.5,238.1 132.5,242.6 146.5,250.3 160.5,263.1 174.5,276.7 188.5,289.5 202.5,297.6 216.5,304.8 230.5,312.6 244.5,321.2 258.5,328.8 272.5,335.3 286.5,337.7 300.5,338.6 314.5,332.8 328.5,315.7 341.5,306.1 355.5,294.0 369.5,290.3 383.5,282.1 397.5,266.5 411.5,259.1 425.5,241.6 439.5,234.3 453.5,230.5 467.5,228.1 481.5,235.4 495.5,233.1 509.5,230.0 523.5,221.1 537.5,197.2 551.5,180.3 565.5,165.9 579.5,158.8 593.5,153.2 607.5,149.8 621.5,160.2 635.5,162.8 649.5,160.2 663.5,154.2 677.5,149.2 691.5,143.7 705.5,132.1 719.5,124.8 733.5,118.1 746.5,117.8 760.5,111.9 774.5,102.1 788.5,95.4 802.5,82.2 816.5,71.2"/>
</g>
<g clip-path="url(#cv)" shape-rendering="crispEdges">
<rect x="4" y="498" width="4" height="8" fill="#008000"/>
<rect x="18" y="495" width="4" height="11" fill="#008000"/>
<rect x="32" y="496" width="4" height="10" fill="#008000"/>
<rect x="46" y="496" width="4" height="10" fill="#008000"/>
<rect x="60" y="490" width="4" height="16" fill="#ff0000"/>
<rect x="74" y="500" width="4" height="6" fill="#008000"/>
<rect x="88" y="497" width="4" height="9" fill="#ff0000"/>
<rect x="102" y="499" width="4" height="7" fill="#008000"/>
<rect x="116" y="498" width="4" height="8" fill="#ff0000"/>
<rect x="130" y="489" width="4" height="17" fill="#ff0000"/>
<rect x="144" y="498" width="4" height="8" fill="#ff0000"/>
<rect x="158" y="494" width="4" height="12" fill="#ff0000"/>
<rect x="172" y="498" width="4" height="8" fill="#ff0000"/>
<rect x="186" y="491" width="4" height="15" fill="#008000"/>
<rect x="200" y="465" width="4" height="41" fill="#008000"/>
<rect x="214" y="500" width="4" height="6" fill="#ff0000"/>
<rect x="228" y="500" width="4" height="6" fill="#ff0000"/>
<rect x="242" y="496" width="4" height="10" fill="#ff0000"/>
<rect x="256" y="491" width="4" height="15" fill="#ff0000"/>
<rect x="270" y="499" width="4" height="7" fill="#008000"/>
<rect x="284" y="503" width="4" height="3" fill="#008000"/>
<rect x="298" y="497" width="4" height="9" fill="#008000"/>
<rect x="312" y="500" width="4" height="6" fill="#008000"/>
<rect x="326" y="499" width="4" height="7" fill="#008000"/>
<rect x="339" y="493" width="4" height="13" fill="#ff0000"/>
<rect x="353" y="501" width="4" height="5" fill="#008000"/>
<rect x="367" y="498" width="4" height="8" fill="#ff0000"/>
<rect x="381" y="497" width="4" height="9" fill="#008000"/>
<rect x="395" y="483" width="4" height="23" fill="#008000"/>
<rect x="409" y="487" width="4" height="19" fill="#ff0000"/>
<rect x="423" y="500" width="4" height="6" fill="#008000"/>
<rect x="437" y="498" width="4" height="8" fill="#ff0000"/>
<rect x="451" y="486" width="4" height="20" fill="#ff0000"/>
<rect x="465" y="496" width="4" height="10" fill="#008000"/>
<rect x="479" y="486" width="4" height="20" fill="#008000"/>
<rect x="493" y="500" width="4" height="6" fill="#008000"/>
<rect x="507" y="496" width="4" height="10" fill="#008000"/>
<rect x="521" y="497" width="4" height="9" fill="#008000"/>
<rect x="535" y="494" width="4" height="12" fill="#008000"/>
<rect x="549" y="494" width="4" height="12" fill="#ff0000"/>
<rect x="563" y="494" width="4" height="12" fill="#ff0000"/>
<rect x="577" y="494" width="4" height="12" fill="#ff0000"/>
<rect x="591" y="491" width="4" height="15" fill="#008000"/>
<rect x="605" y="500" width="4" height="6" fill="#ff0000"/>
<rect x="619" y="487" width="4" height="19" fill="#ff0000"/>
<rect x="633" y="497" width="4" height="9" fill="#008000"/>
<rect x="647" y="492" width="4" height="14" fill="#008000"/>
<rect x="661" y="492" width="4" height="14" fill="#008000"/>
<rect x="675" y="498" width="4" height="8" fill="#ff0000"/>
<rect x="689" y="475" width="4" height="31" fill="#ff0000"/>
<rect x="703" y="499" width="4" height="7" fill="#008000"/>
<rect x="717" y="492" width="4" height="14" fill="#008000"/>
<rect x="731" y="493" width="4" height="13" fill="#008000"/>
<rect x="744" y="493" width="4" height="13" fill="#ff0000"/>
<rect x="758" y="399" width="4" height="107" fill="#008000"/>
<rect x="772" y="499" width="4" height="7" fill="#008000"/>
<rect x="786" y="498" width="4" height="8" fill="#ff0000"/>
<rect x="800" y="492" width="4" height="14" fill="#008000"/>
<rect x="814" y="499" width="4" height="7" fill="#008000"/>
</g>
<g shape-rendering="crispEdges">
<rect x="146" y="506" width="1" height="6" fill="#ff6e60"/>
<rect x="425" y="506" width="1" height="6" fill="#ff6e60"/>
<rect x="1068" y="506" width="1" height="6" fill="#ff6e60"/>
<rect x="745.5" y="507" width="2" height="5" fill="#000"/>
</g>
<rect x="0" y="533" width="1222" height="1" fill="#1a5bc4" shape-rendering="crispEdges"/>
<g font-size="11">
<text x="13" y="23" fill="#ff0000">MA6: 5537.83</text>
<text x="95" y="23" fill="#0000ff">MA13: 5468.15</text>
<text x="183" y="23" fill="#000">EMA13: 5479.67</text>
<text x="278" y="23" fill="#ff0000">Bol-U : 5620.81</text>
<text x="365" y="23" fill="#008000">Bol-D : 5205.89</text>
<text x="452" y="23" fill="#4169e1">EMA9: 5518.9</text>
</g>
<rect x="1123" y="34.4" width="99" height="15.3" fill="#7fd0ff" fill-opacity="0.85"/>
<text transform="translate(1184.5,45.9) scale(0.97,1.1)" font-size="13" fill="#000">5631</text>
<rect x="1123" y="257" width="53" height="16" fill="#ffa530" fill-opacity="0.75"/>
<text transform="translate(1125.6,269.8) scale(0.99,1.1)" font-size="13" fill="#000">5061.57</text>
<text transform="translate(1076.5,413.4) scale(1,1.1)" font-size="11" fill="#0000ff">Volume</text>
<rect x="776" y="398" width="72" height="16" fill="#ff9900"/>
<text transform="translate(779,411) scale(1.02,1.1)" font-size="12.5" fill="#000">08/01/2020</text>
</svg>
<div class="t" style="left:726px;top:515px;font-size:11px;color:#000"><span class="ib"><bdo dir="ltr">וני</bdo></span><span class="ib">(2020)</span></div>
<div class="t" style="left:13px;top:357.3px;font-size:13px;color:#008000"><span class="ib">(1 </span><span class="ib"><bdo dir="ltr">הרוצת</bdo></span><span class="ib">)</span></div>
<div class="t" style="left:13px;top:376.5px;font-size:14px;color:#000;transform:scaleX(0.94);transform-origin:0 0"><span class="ib">00390013 : </span><span class="ib"><bdo dir="ltr">ץח ינולא</bdo></span></div>
</body></html>
